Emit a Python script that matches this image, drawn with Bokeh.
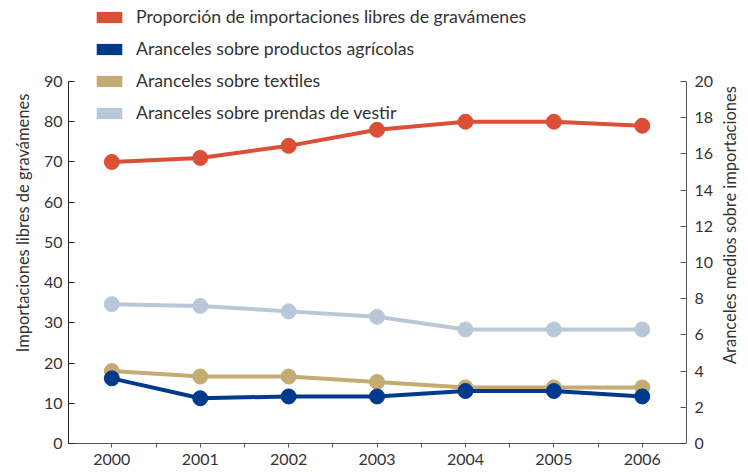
from bokeh.plotting import figure
from bokeh.layouts import row
from bokeh.models import (Range1d, LinearAxis, FixedTicker, Legend, LegendItem,
                          ColumnDataSource)
from bokeh.embed import file_html
from bokeh.resources import INLINE

years = [2000, 2001, 2002, 2003, 2004, 2005, 2006]
duty_free_share = [70, 71, 74, 78, 80, 80, 79]
agri_tariffs = [3.6, 2.5, 2.6, 2.6, 2.9, 2.9, 2.6]
textile_tariffs = [4.0, 3.7, 3.7, 3.4, 3.1, 3.1, 3.1]
clothing_tariffs = [7.7, 7.6, 7.3, 7.0, 6.3, 6.3, 6.3]
half_years = [2000.5, 2001.5, 2002.5, 2003.5, 2004.5, 2005.5]
left_ticks = [0, 10, 20, 30, 40, 50, 60, 70, 80, 90]
right_ticks = [0, 2, 4, 6, 8, 10, 12, 14, 16, 18, 20]
legend_labels = ["Proporción de importaciones libres de gravámenes",
                 "Aranceles sobre productos agrícolas",
                 "Aranceles sobre textiles",
                 "Aranceles sobre prendas de vestir"]
left_title = "Importaciones libres de gravámenes"
right_title = "Aranceles medios  sobre importaciones"

RED = "#DB4F37"
DBLUE = "#003A8C"
TAN = "#C4AB74"
LBLUE = "#B9C8D7"
colors = [RED, DBLUE, TAN, LBLUE]
FONT = "Lato"
TXT = "#333333"
AX = "#555555"
NAN = float("nan")

H = 472
TOP, BOTTOM = 2, 29
LEFT_MAX = 109.64
RIGHT_MAX = 24.365

p = figure(width=716, height=H, output_backend="svg", toolbar_location=None,
           x_range=Range1d(1999.51, 2006.5), y_range=Range1d(0, LEFT_MAX),
           min_border_left=68, min_border_right=27, min_border_top=TOP,
           min_border_bottom=BOTTOM, outline_line_color=None)
p.extra_y_ranges = {"right": Range1d(0, RIGHT_MAX)}
p.grid.visible = False

# left axis
ya = p.yaxis[0]
ya.ticker = FixedTicker(ticks=left_ticks)
ya.bounds = (0, 90)
ya.major_tick_in = 6
ya.major_tick_out = 0
ya.minor_tick_in = 0
ya.minor_tick_out = 0
ya.axis_line_color = "#222222"
ya.major_tick_line_color = "#222222"
ya.major_label_text_font = FONT
ya.major_label_text_font_size = "16px"
ya.major_label_text_color = TXT
ya.major_label_standoff = 6
ya.axis_label = left_title
ya.axis_label_text_font = FONT
ya.axis_label_text_font_size = "16.5px"
ya.axis_label_text_font_style = "normal"
ya.axis_label_text_color = TXT
ya.axis_label_standoff = 8

# right axis (ticks and numbers)
ra = LinearAxis(y_range_name="right", ticker=FixedTicker(ticks=right_ticks),
                bounds=(0, 20), major_tick_in=6, major_tick_out=0,
                minor_tick_in=0, minor_tick_out=0,
                axis_line_color=AX, major_tick_line_color=AX,
                major_label_text_font=FONT, major_label_text_font_size="16px",
                major_label_text_color=TXT, major_label_standoff=8)
p.add_layout(ra, "right")

# x axis
xa = p.xaxis[0]
xa.ticker = FixedTicker(ticks=years, minor_ticks=half_years)
xa.major_tick_in = 0
xa.major_tick_out = 4
xa.minor_tick_in = 0
xa.minor_tick_out = 4
xa.axis_line_color = AX
xa.major_tick_line_color = AX
xa.minor_tick_line_color = AX
xa.major_label_text_font = FONT
xa.major_label_text_font_size = "16px"
xa.major_label_text_color = TXT
xa.major_label_standoff = 6

series = [(clothing_tariffs, LBLUE, "right"), (textile_tariffs, TAN, "right"),
          (agri_tariffs, DBLUE, "right"), (duty_free_share, RED, "default")]
for vals, col, rng in series:
    src = ColumnDataSource(dict(x=years, y=vals))
    p.line("x", "y", source=src, line_color=col, line_width=4, y_range_name=rng)
    p.scatter("x", "y", source=src, size=15, fill_color=col, line_color=col,
              y_range_name=rng)

# legend swatches (undrawn NaN boxes that only feed the legend)
items = []
for lab, col in zip(legend_labels, colors):
    r = p.quad(left=[NAN], right=[NAN], top=[NAN], bottom=[NAN],
               fill_color=col, line_color=None)
    items.append(LegendItem(label=lab, renderers=[r]))
legend = Legend(items=items, location=(25, 320), orientation="vertical",
                glyph_width=32, glyph_height=14, label_standoff=11,
                label_height=20, spacing=11, padding=0, margin=0,
                border_line_color=None, background_fill_alpha=0,
                label_text_font=FONT, label_text_font_size="17.7px",
                label_text_color=TXT)
p.add_layout(legend, "center")

# narrow strip carrying the right-hand axis title (reads bottom to top)
t = figure(width=32, height=H, output_backend="svg", toolbar_location=None,
           x_range=Range1d(0, 1), y_range=Range1d(0, RIGHT_MAX),
           min_border_left=20, min_border_right=0, min_border_top=TOP,
           min_border_bottom=BOTTOM, outline_line_color=None)
t.grid.visible = False
t.xaxis.visible = False
ty = t.yaxis[0]
ty.ticker = FixedTicker(ticks=[])
ty.bounds = (0, 20)
ty.axis_line_color = None
ty.major_tick_line_color = None
ty.minor_tick_line_color = None
ty.major_label_text_font_size = "0px"
ty.major_label_standoff = 0
ty.axis_label = right_title
ty.axis_label_text_font = FONT
ty.axis_label_text_font_size = "16.5px"
ty.axis_label_text_font_style = "normal"
ty.axis_label_text_color = TXT
ty.axis_label_standoff = 4

layout = row(p, t, spacing=0)
open("out.html", "w").write(file_html(layout, INLINE))
